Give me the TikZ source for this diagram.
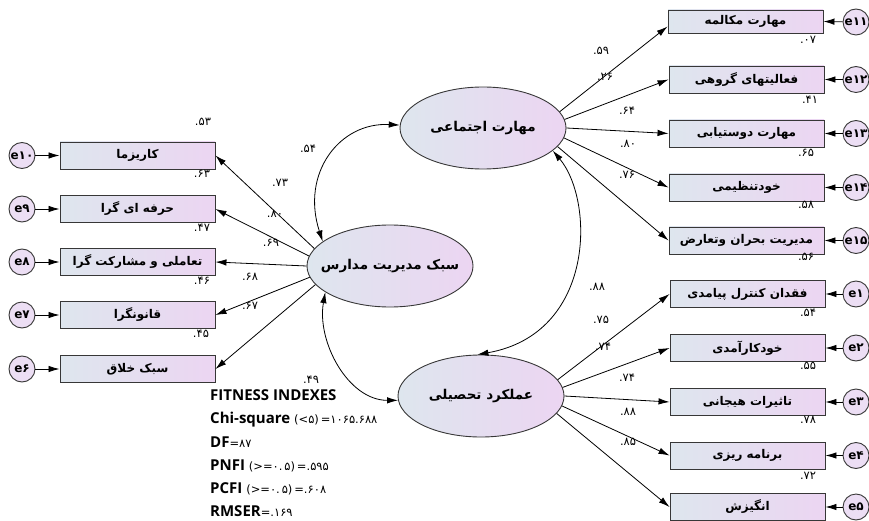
\documentclass[tikz,border=0pt]{standalone}
\usepackage{fontspec}
\usetikzlibrary{arrows.meta,shapes.geometric}
\TeXXeTstate=1
\newfontfamily\fa[Script=Arabic]{DejaVu Sans}
\newfontfamily\nm{DejaVu Sans}
\newfontfamily\fitf{Open Sans}
\definecolor{boxL}{RGB}{222,230,238}
\definecolor{boxR}{RGB}{236,213,242}
\definecolor{errc}{RGB}{236,222,244}
\definecolor{bordc}{RGB}{55,55,55}
\newcommand\rtltxt[1]{\makebox[0pt][c]{\beginR #1\endR}}
\begin{document}
\begin{tikzpicture}[x=1pt,y=-1pt,
  box/.style={draw=bordc, line width=0.9pt, left color=boxL, right color=boxR,
    minimum width=155pt, minimum height=27pt, inner sep=0pt,
    font=\fa\bfseries\fontsize{12}{14}\selectfont},
  lat/.style={ellipse, draw=bordc, line width=0.9pt, left color=boxL, right color=boxR,
    minimum width=166pt, minimum height=82pt, inner sep=0pt,
    font=\fa\bfseries\fontsize{13.5}{16}\selectfont},
  err/.style={circle, draw=bordc, line width=0.9pt, fill=errc, minimum size=26pt,
    inner sep=0pt, font=\nm\bfseries\fontsize{12}{14}\selectfont},
  arr/.style={-{Latex[length=11pt,width=6.5pt]}, line width=0.8pt},
  cov/.style={{Latex[length=11pt,width=6.5pt]}-{Latex[length=11pt,width=6.5pt]}, line width=0.8pt},
  num/.style={font=\nm\fontsize{11.5}{13}\selectfont, inner sep=0pt},
  fitl/.style={anchor=base west, inner sep=0pt}
]
\useasboundingbox (0,0) rectangle (869,521);

% latent variables
\node[lat] (soc) at (483,128) {\rtltxt{مهارت اجتماعی}};
\node[lat] (mid) at (390,266) {\rtltxt{سبک مدیریت مدارس}};
\node[lat] (acad) at (481,396) {\rtltxt{عملکرد تحصیلی}};

% left indicators
\node[box] (k1) at (137.5,155.5) {\beginR کاریزما\endR};
\node[box] (k2) at (137.5,209) {\beginR حرفه ای گرا\endR};
\node[box] (k3) at (137.5,262) {\beginR تعاملی و مشارکت گرا\endR};
\node[box] (k4) at (137.5,315) {\beginR قانونگرا\endR};
\node[box] (k5) at (137.5,369) {\beginR سبک خلاق\endR};

\node[err] (e10) at (22,155.5) {e۱۰};
\node[err] (e9) at (22,209) {e۹};
\node[err] (e8) at (22,262) {e۸};
\node[err] (e7) at (22,315) {e۷};
\node[err] (e6) at (22,369) {e۶};

% right indicators (social skills)
\node[box, minimum height=23pt] (r1) at (745.5,21.5) {\beginR مهارت مکالمه\endR};
\node[box] (r2) at (746.5,79.5) {\beginR فعالیتهای گروهی\endR};
\node[box] (r3) at (746.5,133.5) {\beginR مهارت دوستیابی\endR};
\node[box] (r4) at (746.5,187.5) {\beginR خودتنظیمی\endR};
\node[box] (r5) at (746.5,240.5) {\beginR مدیریت بحران وتعارض\endR};

% right indicators (academic performance)
\node[box] (r6) at (747.5,294) {\beginR فقدان کنترل پیامدی\endR};
\node[box] (r7) at (747.5,348) {\beginR خودکارآمدی\endR};
\node[box] (r8) at (747.5,402) {\beginR تاثیرات هیجانی\endR};
\node[box] (r9) at (747.5,455.5) {\beginR برنامه ریزی\endR};
\node[box] (r10) at (747.5,507) {\beginR انگیزش\endR};

\node[err] (e11) at (856,22) {e۱۱};
\node[err] (e12) at (856,79.5) {e۱۲};
\node[err] (e13) at (856,133.5) {e۱۳};
\node[err] (e14) at (856,187.5) {e۱۴};
\node[err] (e15) at (856,240.5) {e۱۵};
\node[err] (e1) at (856,294) {e۱};
\node[err] (e2) at (856,348) {e۲};
\node[err] (e3) at (856,402) {e۳};
\node[err] (e4) at (856,455.5) {e۴};
\node[err] (e5) at (856,507) {e۵};

% error arrows
\foreach \e/\b in {e10/k1,e9/k2,e8/k3,e7/k4,e6/k5}
  \draw[arr] (\e) -- (\b.west);
\foreach \e/\b in {e11/r1,e12/r2,e13/r3,e14/r4,e15/r5,e1/r6,e2/r7,e3/r8,e4/r9,e5/r10}
  \draw[arr] (\e) -- (\b.east);

% loadings
\draw[arr] (mid.167) -- (k1.east);
\draw[arr] (mid.173) -- (k2.east);
\draw[arr] (mid.180) -- (k3.east);
\draw[arr] (mid.188) -- (k4.east);
\draw[arr] (mid.194) -- (k5.east);

\draw[arr] (soc.12) -- ([yshift=-5pt]r1.west);
\draw[arr] (soc.6) -- (r2.west);
\draw[arr] (soc.0) -- (r3.west);
\draw[arr] (soc.-7) -- (r4.west);
\draw[arr] (soc.-14) -- (r5.west);

\draw[arr] (acad.12) -- (r6.west);
\draw[arr] (acad.6) -- (r7.west);
\draw[arr] (acad.0) -- (r8.west);
\draw[arr] (acad.-7) -- (r9.west);
\draw[arr] (acad.-13) -- (r10.west);

% covariances
\draw[cov] (soc.178) to[out=177, in=108, out distance=60, in distance=72] (mid.160);
\draw[cov] (mid.202) to[out=260, in=180, out distance=50, in distance=50] (acad.183);
\draw[cov] (soc.-18) to[out=-50, in=10, out distance=65, in distance=120] (acad.95);

% numbers, left
\node[num] at (203,122) {.۵۳};
\node[num] at (202,174) {.۶۳};
\node[num] at (202,228) {.۴۷};
\node[num] at (202,281) {.۴۶};
\node[num] at (201,334) {.۴۵};
\node[num] at (280,183) {.۷۳};
\node[num] at (275,214) {.۸۰};
\node[num] at (271,243) {.۶۹};
\node[num] at (250,277) {.۶۸};
\node[num] at (250,306) {.۶۷};
\node[num] at (308,149) {.۵۴};
\node[num] at (311,380) {.۴۹};
% numbers, right top
\node[num] at (601,51) {.۵۹};
\node[num] at (605,77) {.۲۶};
\node[num] at (627,111) {.۶۴};
\node[num] at (628,144) {.۸۰};
\node[num] at (627,175) {.۷۶};
\node[num] at (808,40) {.۰۷};
\node[num] at (810,100) {.۴۱};
\node[num] at (806,153) {.۶۵};
\node[num] at (806,205) {.۵۸};
\node[num] at (806,257) {.۵۶};
% numbers, right bottom
\node[num] at (597,287) {.۸۸};
\node[num] at (601,320) {.۷۵};
\node[num] at (603,347) {.۷۴};
\node[num] at (627,378) {.۷۴};
\node[num] at (628,412) {.۸۸};
\node[num] at (628,442) {.۸۵};
\node[num] at (808,313) {.۵۴};
\node[num] at (808,366) {.۵۵};
\node[num] at (808,420) {.۷۸};
\node[num] at (808,476) {.۷۲};

% fitness indexes
\node[fitl] (f0) at (210,400) {\fitf\bfseries\fontsize{15}{17}\selectfont FITNESS INDEXES};
\node[fitl] (f1) at (210,423) {\fitf\bfseries\fontsize{15}{17}\selectfont Chi-square\ {\nm\mdseries\fontsize{11.5}{13}\selectfont (<۵)\,=۱۰۶۵.۶۸۸}};
\node[fitl] (f2) at (210,447) {\fitf\bfseries\fontsize{15}{17}\selectfont DF{\nm\mdseries\fontsize{11.5}{13}\selectfont =۸۷}};
\node[fitl] (f3) at (210,470) {\fitf\bfseries\fontsize{15}{17}\selectfont PNFI\ {\nm\mdseries\fontsize{11.5}{13}\selectfont (>=۰.\,۵)\,=.۵۹۵}};
\node[fitl] (f4) at (210,493) {\fitf\bfseries\fontsize{15}{17}\selectfont PCFI\ {\nm\mdseries\fontsize{11.5}{13}\selectfont (>=۰.\,۵)\,=.۶۰۸}};
\node[fitl] (f5) at (210,516) {\fitf\bfseries\fontsize{15}{17}\selectfont RMSER{\nm\mdseries\fontsize{11.5}{13}\selectfont =.۱۶۹}};
\end{tikzpicture}
\end{document}
